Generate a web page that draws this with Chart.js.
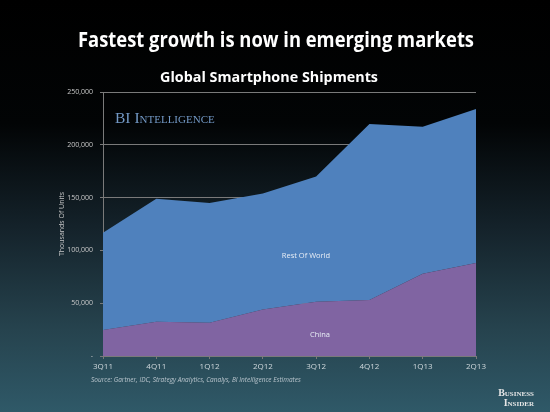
<!DOCTYPE html>
<html>
<head>
<meta charset="utf-8">
<script src="https://cdn.jsdelivr.net/npm/chart.js@4.4.1/dist/chart.umd.min.js"></script>
<style>
  html, body { margin: 0; padding: 0; background: #000; }
  #wrap { width: 550px; height: 412px; position: relative; }
</style>
</head>
<body>
<div id="wrap"><canvas id="shipmentsChart" width="550" height="412"></canvas></div>
<script>
// Quarters on the x axis
const quarters = ['3Q11', '4Q11', '1Q12', '2Q12', '3Q12', '4Q12', '1Q13', '2Q13'];
// Thousands of units
const chinaUnits = [24600, 32500, 31600, 44000, 51400, 53000, 78000, 88000];
const restOfWorldUnits = [92000, 116500, 113400, 110000, 118600, 166700, 139000, 146000];
const yTicks = [0, 50000, 100000, 150000, 200000, 250000];

const font = "'Open Sans', 'Liberation Sans', sans-serif";

// background, titles and the slide furniture
const slidePlugin = {
    id: 'slide',
    beforeDraw(chart) {
        const ctx = chart.ctx;
        const w = chart.width, h = chart.height;
        const g = ctx.createLinearGradient(0, 0, 0, h);
        g.addColorStop(0, '#000000');
        g.addColorStop(0.3, '#020405');
        g.addColorStop(0.55, '#14222a');
        g.addColorStop(0.8, '#26434e');
        g.addColorStop(1, '#2f5968');
        ctx.save();
        ctx.fillStyle = g;
        ctx.fillRect(0, 0, w, h);
        ctx.restore();
    },
    afterDraw(chart) {
        const ctx = chart.ctx;
        const area = chart.chartArea;
        ctx.save();
        ctx.textAlign = 'center';
        ctx.textBaseline = 'alphabetic';
        ctx.fillStyle = '#ffffff';
        ctx.font = "bold 21px " + font;
        ctx.fillText('Fastest growth is now in emerging markets', 276, 47, 396);
        ctx.font = "bold 15px " + font;
        ctx.fillText('Global Smartphone Shipments', 269, 82, 218);

        // BI Intelligence mark
        ctx.textAlign = 'left';
        ctx.fillStyle = '#7399c6';
        ctx.font = "small-caps 15.5px 'Liberation Serif', 'DejaVu Serif', serif";
        ctx.fillText('BI Intelligence', 115, 123, 106);

        // area labels
        ctx.textAlign = 'center';
        ctx.textBaseline = 'middle';
        ctx.fillStyle = '#e8eef6';
        ctx.font = "7.5px " + font;
        ctx.fillText('Rest Of World', 306, 256);
        ctx.fillText('China', 320, 335);

        // y axis title
        ctx.save();
        ctx.translate(62, (area.top + area.bottom) / 2);
        ctx.rotate(-Math.PI / 2);
        ctx.fillStyle = '#c8c8c8';
        ctx.font = "7px " + font;
        ctx.fillText('Thousands Of Units', 0, 0);
        ctx.restore();

        // source line
        ctx.textAlign = 'left';
        ctx.textBaseline = 'alphabetic';
        ctx.fillStyle = '#b8c4cc';
        ctx.font = "italic 6.5px " + font;
        ctx.fillText('Source: Gartner, IDC, Strategy Analytics, Canalys, BI Intelligence Estimates', 91, 382, 213);

        // Business Insider logo
        ctx.textAlign = 'right';
        ctx.fillStyle = '#e6e6e6';
        ctx.font = "small-caps bold 10px 'Liberation Serif', 'DejaVu Serif', serif";
        ctx.fillText('Business', 534, 396, 41);
        ctx.fillText('Insider', 534, 405.5, 41);
        ctx.restore();
    }
};

new Chart(document.getElementById('shipmentsChart'), {
    type: 'line',
    data: {
        labels: quarters,
        datasets: [{
            label: 'China',
            data: chinaUnits,
            backgroundColor: '#8064a2',
            borderWidth: 0,
            pointRadius: 0,
            fill: 'origin',
            tension: 0
        }, {
            label: 'Rest Of World',
            data: restOfWorldUnits,
            backgroundColor: '#4f81bd',
            borderWidth: 0,
            pointRadius: 0,
            fill: '-1',
            tension: 0
        }]
    },
    options: {
        responsive: false,
        animation: false,
        layout: { padding: { left: 0, top: 92, right: 74, bottom: 0 } },
        plugins: {
            legend: { display: false },
            tooltip: { enabled: false }
        },
        scales: {
            x: {
                offset: false,
                afterFit(scale) { scale.height = 56; },
                grid: { drawOnChartArea: false, color: '#7a7a7a', tickLength: 3 },
                border: { color: '#7a7a7a' },
                ticks: { color: '#cfd8dc', font: { family: font, size: 8 }, padding: 3, maxRotation: 0 }
            },
            y: {
                stacked: true,
                min: 0,
                max: 250000,
                afterFit(scale) { scale.width = 103; },
                afterBuildTicks(scale) { scale.ticks = yTicks.map(v => ({ value: v })); },
                grid: { color: '#7a7a7a', tickLength: 3 },
                border: { color: '#7a7a7a' },
                ticks: {
                    color: '#c8c8c8',
                    font: { family: font, size: 7 },
                    padding: 7,
                    callback: v => v === 0 ? '-' : v.toLocaleString('en-US')
                }
            }
        }
    },
    plugins: [slidePlugin]
});
</script>
</body>
</html>
